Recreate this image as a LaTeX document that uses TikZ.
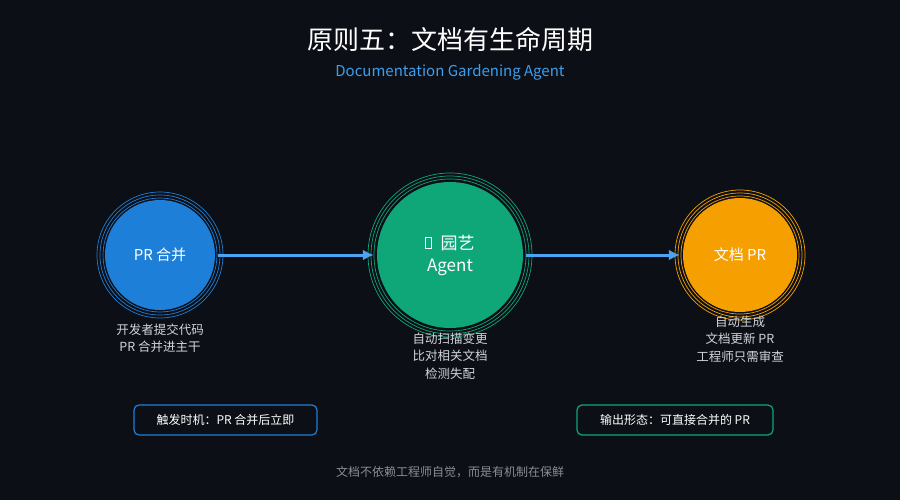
\documentclass[tikz,border=0pt]{standalone}
\usepackage{fontspec}
\setmainfont{Noto Sans CJK SC}
\usetikzlibrary{positioning}
\definecolor{bgdark}{HTML}{0C0F16}
\definecolor{mergeblue}{HTML}{1E7FD8}
\definecolor{agentgreen}{HTML}{0FA678}
\definecolor{proutorange}{HTML}{F5A000}
\definecolor{arrowblue}{HTML}{4EA3F0}
\definecolor{subblue}{HTML}{3A9FF0}
\definecolor{notegray}{HTML}{D2D4D8}
\definecolor{footgray}{HTML}{8A8D94}
\tikzset{
  stage/.style={circle,text=white,inner sep=0pt,align=center},
  ring/.style={line width=0.7pt},
  note/.style={text=notegray,font=\fontsize{12.5}{17.5}\selectfont,align=center},
  flow/.style={line width=3pt,arrowblue,-{Latex[length=11pt,width=11pt]}},
  tag/.style={rounded corners=5pt,line width=1.2pt,fill=bgdark,text=white,
    font=\fontsize{12}{14}\selectfont,minimum height=30pt,inner xsep=12pt}
}
\usetikzlibrary{arrows.meta}
\begin{document}
\begin{tikzpicture}[x=1pt,y=-1pt]
\useasboundingbox[fill=bgdark] (0,0) rectangle (900,500);
% Title
\node[text=white,font=\fontsize{26}{30}\selectfont] (title) at (450,40) {原则五：文档有生命周期};
\node[text=subblue,font=\fontsize{15}{18}\selectfont] (subtitle) at (450,72) {Documentation Gardening Agent};

% Stages
\node[stage,fill=mergeblue,minimum size=110pt,font=\fontsize{15}{18}\selectfont] (merge) at (160,255) {PR 合并};
\node[stage,fill=agentgreen,minimum size=146pt,font=\fontsize{17}{22}\selectfont] (agent) at (450,255)
  {\tikz\draw[white,line width=0.6pt] (0,0) rectangle (6pt,11pt);\enspace 园艺\\Agent};
\node[stage,fill=proutorange,minimum size=114pt,font=\fontsize{15}{18}\selectfont] (prout) at (740,255) {文档 PR};

% Rings
\foreach \r in {57,60,63} \draw[ring,mergeblue] (merge.center) circle (\r);
\foreach \r in {76,79,82} \draw[ring,agentgreen] (agent.center) circle (\r);
\foreach \r in {59,62,65} \draw[ring,proutorange] (prout.center) circle (\r);

% Arrows
\draw[flow] (merge.east) ++(3,0) -- ([xshift=-3pt]agent.west);
\draw[flow] (agent.east) ++(3,0) -- ([xshift=-3pt]prout.west);

% Notes
\node[note] (mergenote) at (160,338) {开发者提交代码\\PR 合并进主干};
\node[note] (agentnote) at (450,356) {自动扫描变更\\比对相关文档\\检测失配};
\node[note] (proutnote) at (740,339) {自动生成\\文档更新 PR\\工程师只需审查};

% Tags
\node[tag,draw=mergeblue,minimum width=183pt] (trigger) at (225.5,420) {触发时机：PR 合并后立即};
\node[tag,draw=agentgreen,minimum width=196pt] (output) at (675,420) {输出形态：可直接合并的 PR};

% Footer
\node[text=footgray,font=\fontsize{12}{14}\selectfont] (footer) at (450,472) {文档不依赖工程师自觉，而是有机制在保鲜};
\end{tikzpicture}
\end{document}
